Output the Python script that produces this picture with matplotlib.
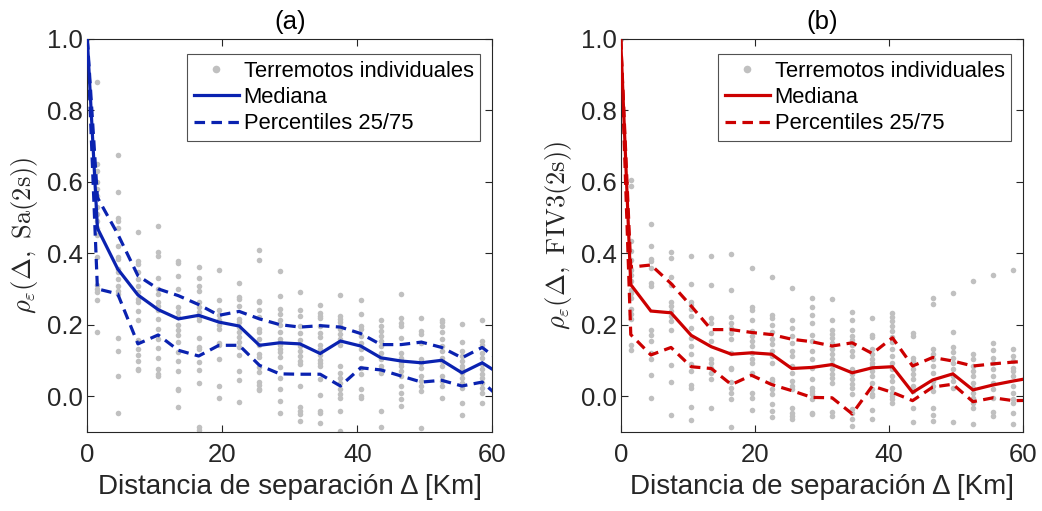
import numpy as np
import matplotlib
matplotlib.use("Agg")
import matplotlib.pyplot as plt
from matplotlib.lines import Line2D

plt.rcParams['font.family'] = ['Liberation Sans', 'DejaVu Sans']
plt.rcParams['mathtext.fontset'] = 'cm'

# ---------------- data ----------------
dist = [0, 1.5, 4.5, 7.5, 10.5, 13.5, 16.5, 19.5, 22.5, 25.5, 28.5, 31.5,
        34.5, 37.5, 40.5, 43.5, 46.5, 49.5, 52.5, 55.5, 58.5, 61.5]

median_a = [1.0, 0.47, 0.356, 0.283, 0.242, 0.216, 0.226, 0.207, 0.196, 0.142, 0.149,
            0.146, 0.119, 0.154, 0.14, 0.107, 0.098, 0.093, 0.10, 0.065, 0.093, 0.057]
p75_a = [1.0, 0.556, 0.454, 0.337, 0.30, 0.281, 0.256, 0.226, 0.237, 0.216, 0.20,
         0.193, 0.197, 0.193, 0.175, 0.144, 0.144, 0.151, 0.136, 0.107, 0.136, 0.092]
p25_a = [1.0, 0.30, 0.286, 0.146, 0.171, 0.128, 0.112, 0.142, 0.142, 0.086, 0.062,
         0.061, 0.061, 0.028, 0.079, 0.073, 0.056, 0.039, 0.044, 0.028, 0.039, -0.011]

median_b = [1.0, 0.312, 0.238, 0.233, 0.17, 0.138, 0.117, 0.121, 0.117, 0.077, 0.08,
            0.088, 0.065, 0.079, 0.082, 0.01, 0.045, 0.062, 0.017, 0.031, 0.042, 0.052]
p75_b = [1.0, 0.361, 0.367, 0.315, 0.252, 0.186, 0.186, 0.178, 0.172, 0.159, 0.152,
         0.14, 0.149, 0.119, 0.163, 0.084, 0.108, 0.098, 0.084, 0.09, 0.095, 0.098]
p25_b = [1.0, 0.172, 0.115, 0.136, 0.082, 0.077, 0.032, 0.058, 0.032, 0.015, -0.004,
         -0.005, -0.05, 0.028, 0.01, -0.013, 0.025, 0.033, -0.016, -0.005, -0.013, -0.012]

# individual earthquakes, one list per distance bin (dist[0] .. dist[20])
events_a = [
    [1.0],
    [0.88, 0.65, 0.63, 0.60, 0.58, 0.56, 0.53, 0.51, 0.49, 0.47, 0.45, 0.39, 0.31, 0.30, 0.29, 0.27, 0.18],
    [0.676, 0.572, 0.498, 0.491, 0.47, 0.421, 0.389, 0.384, 0.356, 0.347, 0.328, 0.309, 0.293, 0.286, 0.162, 0.125, 0.056, -0.047],
    [0.46, 0.379, 0.37, 0.347, 0.328, 0.309, 0.291, 0.272, 0.263, 0.237, 0.212, 0.156, 0.132, 0.114, 0.097, 0.076, 0.072],
    [0.475, 0.403, 0.391, 0.33, 0.3, 0.286, 0.263, 0.253, 0.24, 0.216, 0.188, 0.16, 0.134, 0.106, 0.075, 0.062, 0.056],
    [0.379, 0.373, 0.335, 0.3, 0.249, 0.235, 0.221, 0.198, 0.184, 0.17, 0.151, 0.123, 0.097, 0.07, 0.021, 0.016, -0.031],
    [0.361, 0.331, 0.307, 0.293, 0.263, 0.249, 0.235, 0.221, 0.212, 0.162, 0.137, 0.132, 0.095, 0.072, 0.036, -0.088, -0.094],
    [0.353, 0.269, 0.242, 0.226, 0.212, 0.198, 0.188, 0.149, 0.142, 0.104, 0.028, -0.006],
    [0.317, 0.277, 0.272, 0.253, 0.216, 0.207, 0.193, 0.179, 0.165, 0.151, 0.137, 0.116, 0.07, 0.046, -0.017],
    [0.409, 0.382, 0.267, 0.263, 0.24, 0.221, 0.188, 0.179, 0.16, 0.142, 0.118, 0.109, 0.081, 0.067, 0.039, 0.03, 0.021, 0.016],
    [0.351, 0.28, 0.244, 0.23, 0.212, 0.198, 0.179, 0.16, 0.151, 0.142, 0.132, 0.123, 0.109, 0.081, 0.05, 0.019, -0.015, -0.047],
    [0.291, 0.241, 0.224, 0.196, 0.177, 0.156, 0.14, 0.126, 0.112, 0.098, 0.089, 0.028, -0.032, -0.042, -0.051, -0.07],
    [0.256, 0.233, 0.225, 0.219, 0.196, 0.177, 0.166, 0.144, 0.132, 0.116, 0.102, 0.093, 0.084, 0.047, 0.003, -0.042, -0.048, -0.075],
    [0.284, 0.224, 0.216, 0.207, 0.196, 0.187, 0.173, 0.159, 0.144, 0.084, 0.065, 0.051, 0.037, 0.019, 0.005, -0.005, -0.042, -0.098],
    [0.27, 0.229, 0.196, 0.187, 0.168, 0.149, 0.131, 0.107, 0.079, 0.061, 0.021, 0.0, -0.005],
    [0.214, 0.196, 0.182, 0.168, 0.154, 0.14, 0.121, 0.103, 0.084, 0.075, 0.065, -0.042, -0.088],
    [0.287, 0.219, 0.205, 0.196, 0.163, 0.121, 0.107, 0.093, 0.084, 0.07, 0.056, 0.028, 0.009, -0.009, -0.028],
    [0.219, 0.182, 0.173, 0.149, 0.103, 0.093, 0.079, 0.056, 0.042, 0.028, 0.014, -0.09],
    [0.214, 0.207, 0.196, 0.179, 0.159, 0.14, 0.126, 0.107, 0.098, 0.084, 0.056, 0.042, 0.028, -0.005],
    [0.203, 0.151, 0.126, 0.112, 0.098, 0.084, 0.075, 0.065, 0.051, 0.037, 0.023, -0.019, -0.053],
    [0.214, 0.154, 0.144, 0.121, 0.107, 0.089, 0.075, 0.061, 0.051, 0.037, 0.023, 0.009, -0.021],
]

events_b = [
    [1.0],
    [0.606, 0.587, 0.433, 0.405, 0.382, 0.354, 0.34, 0.321, 0.298, 0.289, 0.275, 0.243, 0.229, 0.215, 0.144, 0.13],
    [0.483, 0.419, 0.384, 0.377, 0.359, 0.317, 0.307, 0.186, 0.172, 0.154, 0.121, 0.103, 0.058, -0.005],
    [0.403, 0.387, 0.334, 0.31, 0.263, 0.252, 0.238, 0.224, 0.21, 0.186, 0.086, 0.039, -0.054],
    [0.392, 0.315, 0.263, 0.254, 0.244, 0.224, 0.191, 0.163, 0.14, 0.117, 0.089, 0.07, 0.03, 0.023, -0.03, -0.067],
    [0.392, 0.31, 0.219, 0.205, 0.177, 0.154, 0.105, 0.093, 0.079, 0.065, 0.049, -0.035],
    [0.398, 0.296, 0.222, 0.205, 0.191, 0.177, 0.16, 0.121, 0.079, 0.075, 0.039, 0.023, 0.008, -0.009, -0.088],
    [0.358, 0.249, 0.242, 0.212, 0.182, 0.168, 0.154, 0.14, 0.121, 0.103, 0.093, 0.065, 0.009, -0.005, -0.039],
    [0.334, 0.228, 0.219, 0.2, 0.179, 0.16, 0.145, 0.126, 0.112, 0.093, 0.047, 0.042, 0.019, 0.005, -0.023, -0.042, -0.058],
    [0.302, 0.212, 0.191, 0.168, 0.149, 0.126, 0.112, 0.084, 0.065, 0.042, 0.028, 0.019, -0.033, -0.047, -0.056, -0.065],
    [0.274, 0.249, 0.228, 0.205, 0.17, 0.154, 0.126, 0.103, 0.079, 0.047, 0.023, 0.014, 0.005, -0.009, -0.047, -0.051],
    [0.272, 0.212, 0.186, 0.175, 0.163, 0.149, 0.131, 0.117, 0.103, 0.089, 0.075, 0.061, 0.051, 0.037, -0.045, -0.056],
    [0.235, 0.212, 0.184, 0.168, 0.158, 0.144, 0.126, 0.112, 0.075, 0.061, 0.047, 0.033, 0.023, 0.005, -0.037, -0.047, -0.065, -0.084],
    [0.219, 0.17, 0.166, 0.131, 0.117, 0.103, 0.093, 0.084, 0.07, 0.056, 0.037, 0.019, 0.005, 0.0, -0.039, -0.065],
    [0.233, 0.222, 0.21, 0.196, 0.182, 0.166, 0.151, 0.131, 0.112, 0.093, 0.075, 0.056, 0.042, 0.023, 0.009, 0.0, -0.009, -0.019],
    [0.177, 0.168, 0.107, 0.098, 0.075, 0.061, 0.047, 0.028, 0.014, -0.033, -0.073],
    [0.275, 0.259, 0.131, 0.119, 0.103, 0.084, 0.065, 0.042, 0.028, 0.014, -0.035, -0.054, -0.07],
    [0.289, 0.179, 0.138, 0.123, 0.107, 0.093, 0.075, 0.056, 0.042, 0.023, -0.072],
    [0.322, 0.117, 0.103, 0.084, 0.07, 0.056, 0.037, 0.023, 0.009, -0.005, -0.019, -0.033, -0.079],
    [0.34, 0.149, 0.129, 0.107, 0.093, 0.075, 0.056, 0.037, 0.019, -0.005, -0.046, -0.056],
    [0.352, 0.133, 0.112, 0.098, 0.079, 0.07, 0.056, 0.028, 0.009, -0.009, -0.021, -0.047, -0.078],
]

panel_titles = ['(a)', '(b)']
ylabels = [r'$\rho_{\varepsilon}(\Delta,\ \mathrm{Sa}(2\mathrm{s}))$',
           r'$\rho_{\varepsilon}(\Delta,\ \mathrm{FIV3}(2\mathrm{s}))$']
xlabel = 'Distancia de separación Δ [Km]'
legend_labels = ['Terremotos individuales', 'Mediana', 'Percentiles 25/75']
xticks = [0, 20, 40, 60]
yticks = [0.0, 0.2, 0.4, 0.6, 0.8, 1.0]

# ---------------- styling ----------------
BLUE = '#0a22b0'
RED = '#cc0000'
GRAY = '#c0c0c0'
AXC = '#262626'

fig = plt.figure(figsize=(10.42, 5.11), dpi=100)
W, H = 1042, 511
axes = [fig.add_axes([87.3 / W, 1 - 431.7 / H, 405 / W, 392.7 / H]),
        fig.add_axes([620.7 / W, 1 - 431.7 / H, 402.6 / W, 392.7 / H])]

panels = [(events_a, median_a, p25_a, p75_a, BLUE),
          (events_b, median_b, p25_b, p75_b, RED)]

for i, (ax, (events, med, p25, p75, col)) in enumerate(zip(axes, panels)):
    ex = []
    ey = []
    for d, vals in zip(dist, events):
        ex.extend([d] * len(vals))
        ey.extend(vals)
    ax.plot(ex, ey, linestyle='none', marker='o', markersize=4.0,
            markerfacecolor=GRAY, markeredgecolor='none', zorder=1)
    ax.plot(dist, med, color=col, lw=2.3, solid_joinstyle='miter', zorder=3)
    ax.plot(dist, p75, color=col, lw=2.3, dashes=(3.3, 2.0), zorder=2)
    ax.plot(dist, p25, color=col, lw=2.3, dashes=(3.3, 2.0), zorder=2)

    ax.set_xlim(0, 60)
    ax.set_ylim(-0.1, 1.0)
    ax.set_xticks(xticks)
    ax.set_yticks(yticks)
    ax.set_yticklabels([f'{v:.1f}' for v in yticks])
    ax.tick_params(direction='in', length=5, width=0.8, top=True, right=True,
                   labelsize=18.5, colors=AXC)
    ax.tick_params(axis='x', pad=8)
    ax.tick_params(axis='y', pad=3)
    for s in ax.spines.values():
        s.set_color(AXC)
        s.set_linewidth(0.8)
    ax.set_xlabel(xlabel, fontsize=20, color=AXC, labelpad=5)
    ax.set_ylabel(ylabels[i], fontsize=19, color=AXC, labelpad=5)
    ax.set_title(panel_titles[i], fontsize=18.5, color='black', pad=7)

    handles = [Line2D([], [], linestyle='none', marker='o', markersize=5.5,
                      markerfacecolor=GRAY, markeredgecolor='none'),
               Line2D([], [], color=col, lw=2.3),
               Line2D([], [], color=col, lw=2.3, dashes=(3.3, 2.0))]
    leg = ax.legend(handles, legend_labels, loc='upper right',
                    bbox_to_anchor=(0.97, 0.962), borderaxespad=0,
                    fontsize=15.8, frameon=True, fancybox=False,
                    handlelength=2.05, handletextpad=0.23, labelspacing=0.25,
                    borderpad=0.3)
    leg.get_frame().set_edgecolor(AXC)
    leg.get_frame().set_linewidth(0.8)

fig.savefig('out.png', dpi=100)
